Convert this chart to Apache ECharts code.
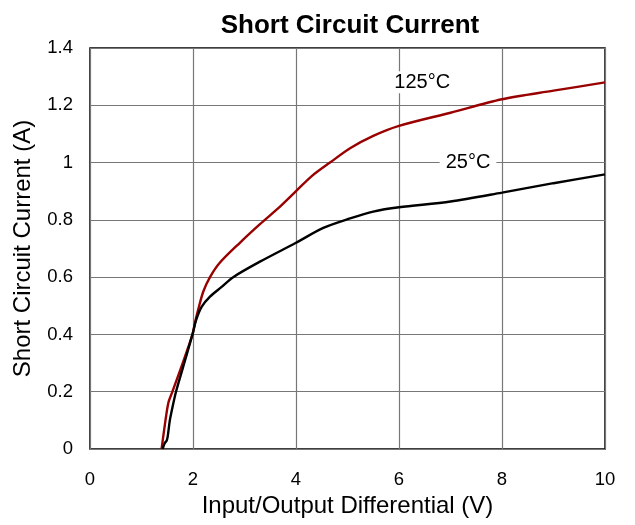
<!DOCTYPE html>
<html><head><meta charset="utf-8">
<script src="https://cdn.jsdelivr.net/npm/echarts@6/dist/echarts.min.js"></script>
<style>html,body{margin:0;padding:0;background:#fff}#c{width:635px;height:525px}</style>
</head><body><div id="c"></div>
<script>
const titleText = 'Short Circuit Current';
const xName = 'Input/Output Differential (V)';
const yName = 'Short Circuit Current (A)';
const seriesNames = ['125°C', '25°C'];
const hot = [[1.39,0],[1.45,0.08],[1.52,0.16],[1.6,0.2],[1.8,0.3],[1.99,0.4],[2.05,0.45],[2.12,0.5],[2.2,0.55],[2.33,0.6],[2.52,0.65],[2.91,0.72],[3.3,0.785],[3.7,0.848],[4,0.9],[4.3,0.952],[4.66,1.0],[5.05,1.05],[5.5,1.093],[6,1.128],[7,1.174],[8,1.221],[9,1.251],[10,1.28]];
const room = [[1.41,0],[1.45,0.02],[1.49,0.03],[1.51,0.045],[1.55,0.1],[1.59,0.136],[1.67,0.2],[1.83,0.3],[1.99,0.4],[2.06,0.45],[2.17,0.497],[2.33,0.532],[2.55,0.565],[2.78,0.6],[3.3,0.654],[4,0.72],[4.53,0.772],[5.05,0.805],[5.5,0.829],[6,0.844],[7,0.864],[8,0.895],[9,0.928],[10,0.959]];
const labelAt = [[6.45,1.28],[7.34,1.0]];

const font = 'Liberation Sans, Arial, sans-serif';
const chart = echarts.init(document.getElementById('c'));
function lbl(name, coord){
  return {symbol:'rect', symbolSize:1, itemStyle:{color:'transparent'},
    data:[{coord:coord, value:name}],
    label:{show:true, position:'inside', formatter:name, color:'#000', fontSize:20, fontFamily:font,
      backgroundColor:'#fff', padding:[1,6]}};
}
chart.setOption({
  animation:false,
  title:{text:titleText, left:345, top:8, textAlign:'center',
    textStyle:{fontFamily:font, fontWeight:'bold', fontSize:26, color:'#000'}},
  grid:{left:90, right:30, top:48, bottom:76, show:true, borderColor:'#000', borderWidth:1.5},
  xAxis:{type:'value', min:0, max:10, interval:2, name:xName, nameLocation:'middle', nameGap:42,
    nameTextStyle:{fontFamily:font, fontSize:24, color:'#000'},
    axisLine:{show:false}, axisTick:{show:false},
    axisLabel:{fontFamily:font, fontSize:18.5, color:'#000', margin:21},
    splitLine:{show:true, lineStyle:{color:'#777', width:1.2}}},
  yAxis:{type:'value', min:0, max:1.4, interval:0.2, name:yName, nameLocation:'middle', nameGap:55,
    nameTextStyle:{fontFamily:font, fontSize:24, color:'#000'},
    axisLine:{show:false}, axisTick:{show:false},
    axisLabel:{fontFamily:font, fontSize:18.5, color:'#000', margin:17},
    splitLine:{show:true, lineStyle:{color:'#777', width:1.2}}},
  series:[
    {name:seriesNames[0], type:'line', data:hot, smooth:0.3, showSymbol:false,
     lineStyle:{color:'#990000', width:2.4}, markPoint:lbl(seriesNames[0], labelAt[0])},
    {name:seriesNames[1], type:'line', data:room, smooth:0.3, showSymbol:false,
     lineStyle:{color:'#000', width:2.4}, markPoint:lbl(seriesNames[1], labelAt[1])}
  ]
});
</script></body></html>
